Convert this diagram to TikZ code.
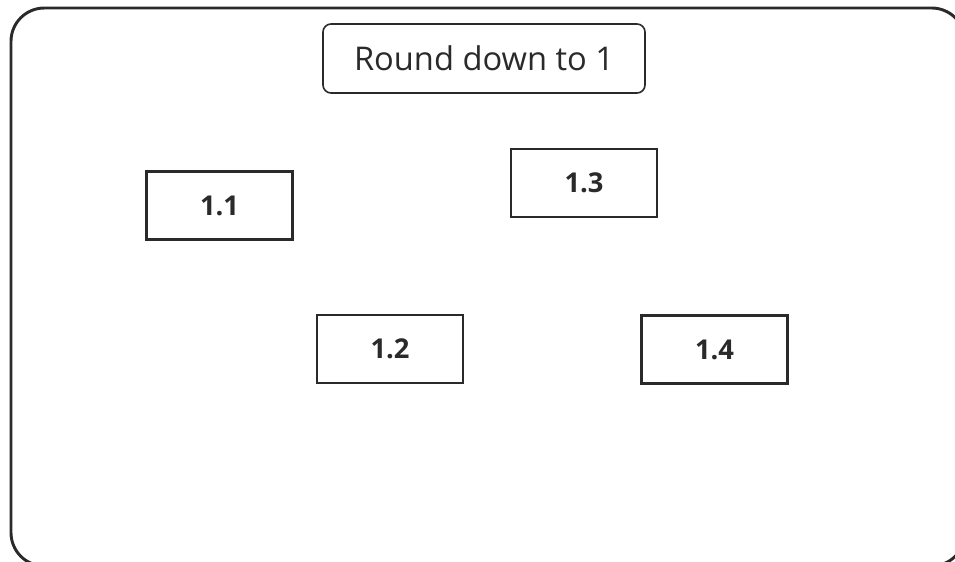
\documentclass[tikz,border=0pt]{standalone}
\usepackage{fontspec}
\setmainfont{Open Sans}
\definecolor{ink}{HTML}{2A2A2A}
\tikzset{
  frame/.style={draw=ink,line width=2.2pt,rounded corners=25pt},
  titlebox/.style={draw=ink,line width=1.2pt,rounded corners=6pt,
    minimum width=241.5pt,minimum height=51.75pt,font=\fontsize{24.5}{28}\selectfont,text=ink},
  numbox/.style={draw=ink,line width=1.7pt,minimum width=109.5pt,minimum height=51pt,
    font=\bfseries\fontsize{20.5}{24}\selectfont,text=ink}
}
\begin{document}
\begin{tikzpicture}[x=0.75pt,y=-0.75pt]
\useasboundingbox (0,0) rectangle (955,561);
\begin{scope}
\clip (0,0) rectangle (955,561);
\draw[frame] (11,8) rectangle (965,566);
\end{scope}
\node[titlebox] (title) at (484,58.5) {Round down to 1};
\node[numbox] (n11) at (219.5,205.5) {1.1};
\node[numbox] (n13) at (584,183) {1.3};
\node[numbox] (n12) at (390,349) {1.2};
\node[numbox] (n14) at (714.5,349.5) {1.4};
\end{tikzpicture}
\end{document}
